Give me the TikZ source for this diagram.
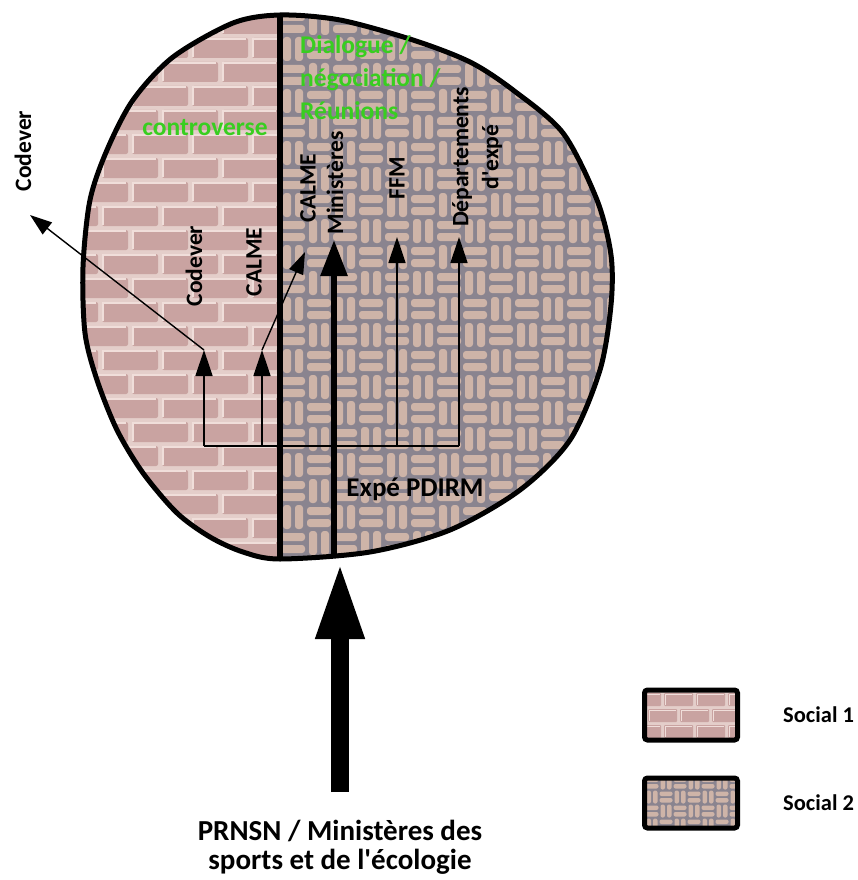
\documentclass[tikz,border=0pt]{standalone}
\usepackage{fontspec}
\setmainfont{Carlito}[Ligatures=TeXOff]
\usetikzlibrary{arrows.meta}
\definecolor{brick}{RGB}{201,163,161}
\definecolor{brickhi}{RGB}{240,222,218}
\definecolor{mortar}{RGB}{228,206,202}
\definecolor{weavebg}{RGB}{138,132,143}
\definecolor{strand}{RGB}{206,180,168}
\definecolor{labgreen}{RGB}{56,206,32}
\begin{document}
\begin{tikzpicture}[x=1pt,y=-1pt,
  thinarr/.style={line width=1.4pt,-{Triangle[length=26pt,width=17pt]}},
  diagarr/.style={line width=1.4pt,-{Triangle[length=22pt,width=15pt]}},
  thickarr/.style={line width=6pt,-{Triangle[length=36pt,width=26pt]}},
  bigarr/.style={line width=18pt,-{Triangle[length=78pt,width=44pt]}},
  thinline/.style={line width=1.4pt},
  vlab/.style={rotate=90,inner sep=0pt,font=\bfseries\fontsize{23.5}{30}\selectfont},
  glab/.style={text=labgreen,inner sep=0pt,font=\bfseries\fontsize{25.5}{33}\selectfont,align=left},
  legbox/.style={draw,line width=5pt,rounded corners=3pt,minimum width=93pt,minimum height=50pt,inner sep=0pt},
  legtext/.style={font=\bfseries\fontsize{22.5}{26}\selectfont,anchor=west,inner sep=0pt},
  btext/.style={font=\bfseries\fontsize{29}{29}\selectfont,align=center,inner sep=0pt},
]
\useasboundingbox[fill=white] (0,0) rectangle (858,880);

% ---- brick part (Social 1)
\begin{scope}
  \clip plot[smooth cycle] coordinates {(280,15) (340,20) (413,40) (470,62) (513,90) (563,133) (597,200) (611,255) (611,305) (600,370) (570,440) (520,490) (450,530) (370,552) (280,559) (243,552) (210,537) (177,513) (143,473) (117,430) (97,380) (85,333) (83,267) (90,200) (107,150) (133,100) (173,57) (233,23)};
  \clip (0,0) rectangle (280,600);
  \fill[mortar] (0,0) rectangle (280,600);
  \foreach \r in {0,...,23}{
    \pgfmathsetmacro{\yy}{12+\r*24}
    \pgfmathsetmacro{\off}{mod(\r,2)*30}
    \foreach \c in {0,...,4}{
      \fill[brick,rounded corners=2pt] ({40+\c*60-\off+2},{\yy+2}) rectangle ++(56,20);
      \draw[brickhi,line width=1.6pt] ({40+\c*60-\off+3},{\yy+21}) -- ++(0,-18) -- ++(53,0);
    }
  }
\end{scope}

% ---- woven part (Social 2)
\begin{scope}
  \clip plot[smooth cycle] coordinates {(280,15) (340,20) (413,40) (470,62) (513,90) (563,133) (597,200) (611,255) (611,305) (600,370) (570,440) (520,490) (450,530) (370,552) (280,559) (243,552) (210,537) (177,513) (143,473) (117,430) (97,380) (85,333) (83,267) (90,200) (107,150) (133,100) (173,57) (233,23)};
  \clip (280,0) rectangle (700,600);
  \fill[weavebg] (280,0) rectangle (700,600);
  \foreach \i in {0,...,13}{
    \foreach \j in {0,...,21}{
      \pgfmathtruncatemacro{\wpar}{mod(\i+\j,2)}
      \pgfmathsetmacro{\xx}{280+\i*26}
      \pgfmathsetmacro{\yy}{10+\j*26}
      \ifnum\wpar=0
        \fill[strand,rounded corners=3pt] (\xx+1,\yy+3) rectangle ++(24,8);
        \fill[strand,rounded corners=3pt] (\xx+1,\yy+15) rectangle ++(24,8);
      \else
        \fill[strand,rounded corners=3pt] (\xx+3,\yy+1) rectangle ++(8,24);
        \fill[strand,rounded corners=3pt] (\xx+15,\yy+1) rectangle ++(8,24);
      \fi
    }
  }
\end{scope}

% ---- outline and divider
\draw[line width=5pt] plot[smooth cycle] coordinates {(280,15) (340,20) (413,40) (470,62) (513,90) (563,133) (597,200) (611,255) (611,305) (600,370) (570,440) (520,490) (450,530) (370,552) (280,559) (243,552) (210,537) (177,513) (143,473) (117,430) (97,380) (85,333) (83,267) (90,200) (107,150) (133,100) (173,57) (233,23)};
\coordinate (divT) at (280,15);
\coordinate (divB) at (280,559);
\draw[line width=6pt] (divT) -- (divB);

% ---- labels
\node[vlab] (lCodOut) at (23,151) {Codever};
\node[vlab] (lCodIn) at (194,266) {Codever};
\node[vlab] (lCalIn) at (254,262) {CALME};
\node[vlab] (lCalOut) at (308,188) {CALME};
\node[vlab] (lMin) at (335,183) {Ministères};
\node[vlab] (lFFM) at (397,178) {FFM};
\node[vlab,align=center] (lDep) at (477,157) {Départements\\d'expé};

\node[glab] (lCtrl) at (205,128) {controverse};
\node[glab,anchor=north west] (lDlg) at (300,35) {Dialogue /\\négociation /\\Réunions};

\node[font=\bfseries\fontsize{27}{30}\selectfont,inner sep=0pt,anchor=base] (lPdirm) at (415,496) {Expé PDIRM};

\node[btext,anchor=north] (lSrc) at (340,820) {PRNSN / Ministères des\\sports et de l'écologie};

% ---- connectors
\coordinate (hL) at (204,446);
\coordinate (hC) at (262,446);
\coordinate (hF) at (397,446);
\coordinate (hR) at (459,446);
\coordinate (tCod) at (204,350);
\coordinate (tCal) at (262,350);
\coordinate (tFFM) at (397,237);
\coordinate (tDep) at (459,237);
\coordinate (tCodOut) at (30,215);
\coordinate (tCalOut) at (305,252);
\coordinate (minB) at (334,556);
\coordinate (minT) at (334,240);
\coordinate (entry) at (340,561);

\draw[thinline] (hL) -- (hR);
\draw[thinarr] (hL) -- (tCod);
\draw[thinarr] (hC) -- (tCal);
\draw[thinarr] (hF) -- (tFFM);
\draw[thinarr] (hR) -- (tDep);
\draw[diagarr] (tCod) -- (tCodOut);
\draw[diagarr] (tCal) -- (tCalOut);
\draw[thickarr] (minB) -- (minT);
\draw[bigarr,shorten <=28pt] (lSrc.north) -- (entry);

% ---- legend
\begin{scope}
  \clip[rounded corners=3pt] (644.5,690) rectangle (737.5,740);
  \fill[mortar] (640,685) rectangle (745,745);
  \foreach \r in {0,1,2}{
    \pgfmathsetmacro{\yy}{692+\r*16}
    \pgfmathsetmacro{\off}{mod(\r,2)*16}
    \foreach \c in {0,...,3}{
      \fill[brick,rounded corners=1pt] ({630+\c*32-\off+2},{\yy+1}) rectangle ++(29,13);
      \draw[brickhi,line width=1pt] ({630+\c*32-\off+3},{\yy+13}) -- ++(0,-11) -- ++(27,0);
    }
  }
\end{scope}
\begin{scope}
  \clip[rounded corners=3pt] (644.5,778) rectangle (737.5,828);
  \fill[weavebg] (640,770) rectangle (745,835);
  \foreach \i in {0,...,6}{
    \foreach \j in {0,...,3}{
      \pgfmathtruncatemacro{\wpar}{mod(\i+\j,2)}
      \pgfmathsetmacro{\xx}{645+\i*14}
      \pgfmathsetmacro{\yy}{776+\j*14}
      \ifnum\wpar=0
        \fill[strand,rounded corners=2pt] (\xx+0.5,\yy+1.5) rectangle ++(13,4.5);
        \fill[strand,rounded corners=2pt] (\xx+0.5,\yy+8) rectangle ++(13,4.5);
      \else
        \fill[strand,rounded corners=2pt] (\xx+1.5,\yy+0.5) rectangle ++(4.5,13);
        \fill[strand,rounded corners=2pt] (\xx+8,\yy+0.5) rectangle ++(4.5,13);
      \fi
    }
  }
\end{scope}
\node[legbox] (leg1) at (691,715) {};
\node[legbox] (leg2) at (691,803) {};
\node[legtext] (lS1) at (783,715) {Social 1};
\node[legtext] (lS2) at (783,803) {Social 2};
\end{tikzpicture}
\end{document}
